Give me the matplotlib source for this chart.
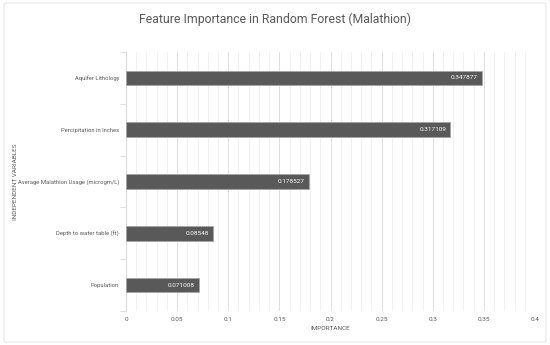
import numpy as np
import matplotlib.pyplot as plt
from matplotlib.patches import FancyBboxPatch
from matplotlib.ticker import MultipleLocator

features = ['Aquifer Lithology', 'Percipitation in Inches',
            'Average Malathion Usage (microgm/L)', 'Depth to water table (ft)',
            'Population']
importance = [0.347877, 0.317109, 0.178527, 0.08548, 0.071008]
labels = ['0.347877', '0.317109', '0.178527', '0.08548', '0.071008']
xticks = [0, 0.05, 0.1, 0.15, 0.2, 0.25, 0.3, 0.35, 0.4]
xtick_labels = ['0', '0.05', '0.1', '0.15', '0.2', '0.25', '0.3', '0.35', '0.4']

plt.rcParams['font.family'] = ['Roboto', 'DejaVu Sans']
txt = '#595959'
fs = 4.6

fig = plt.figure(figsize=(5.5, 3.45), dpi=100)
fig.patches.append(FancyBboxPatch((4 / 550, 3 / 345), 542 / 550, 339 / 345,
                                  boxstyle='round,pad=0,rounding_size=0.004',
                                  transform=fig.transFigure, fill=False,
                                  edgecolor='#e6e6e6', linewidth=0.8))
ax = fig.add_axes([126 / 550, 1 - 311 / 345, 409 / 550, 259 / 345])

y = np.arange(len(features))
ax.barh(y, importance, height=0.28, color='#595959', edgecolor='#a6a6a6',
        linewidth=0.6, zorder=3)
for yi, v, s in zip(y, importance, labels):
    ax.text(v - 0.004, yi, s, ha='right', va='center', color='white',
            fontsize=fs, zorder=4)

ax.set_ylim(len(features) - 0.5, -0.5)
ax.set_xlim(0, 0.4)
ax.set_xticks(xticks)
ax.set_xticklabels(xtick_labels)
ax.xaxis.set_minor_locator(MultipleLocator(0.01))
ax.grid(axis='x', which='major', color='#d9d9d9', linewidth=0.6, zorder=0)
ax.grid(axis='x', which='minor', color='#efefef', linewidth=0.6, zorder=0)

ax.set_yticks(y)
ax.set_yticklabels(features)
ax.set_yticks(np.arange(len(features) + 1) - 0.5, minor=True)
ax.tick_params(axis='y', which='major', length=0, pad=5, labelsize=4.2,
               labelcolor=txt)
ax.tick_params(axis='y', which='minor', length=4, color='#d9d9d9', width=0.6)
ax.tick_params(axis='x', which='both', length=0, pad=4.5, labelsize=fs,
               labelcolor=txt)

for sp in ['top', 'right', 'bottom']:
    ax.spines[sp].set_visible(False)
ax.spines['left'].set_color('#d9d9d9')
ax.spines['left'].set_linewidth(0.6)

ax.set_xlabel('IMPORTANCE', fontsize=fs, color=txt, labelpad=3)
fig.text(16 / 550, 1 - 182 / 345, 'INDEPENDENT VARIABLES', rotation=90,
         ha='center', va='center', fontsize=fs, color=txt)
fig.text(0.5, 1 - 19 / 345, 'Feature Importance in Random Forest (Malathion)',
         ha='center', va='center', fontsize=8.8, color=txt)

fig.savefig('out.png', dpi=100)
